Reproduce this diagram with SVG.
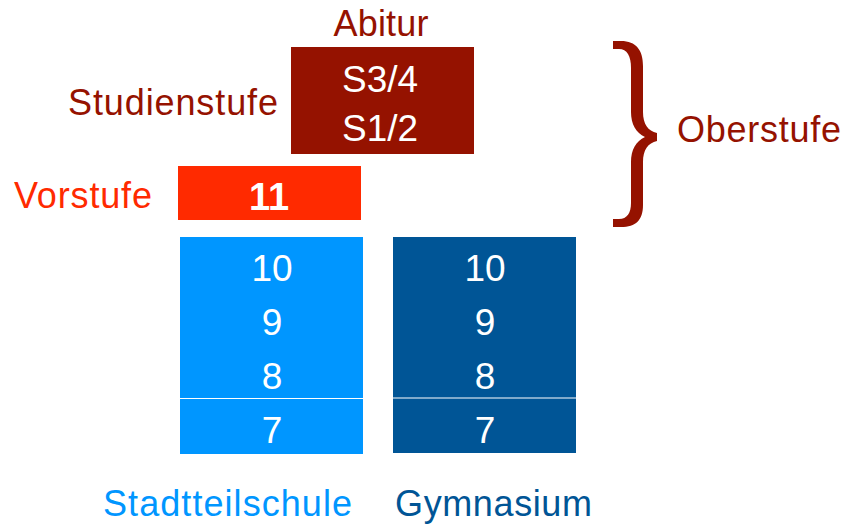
<svg xmlns="http://www.w3.org/2000/svg" width="847" height="524" viewBox="0 0 847 524">
<style>
text{font-family:"Liberation Sans",Arial,sans-serif;}
.w{fill:#fff;font-size:37px;text-anchor:middle;}
.dr{fill:#951200;}
.big{font-size:36px;}
</style>
<rect width="847" height="524" fill="#fff"/>
<g id="abitur"><text class="dr big" x="381" y="36" text-anchor="middle" textLength="95" lengthAdjust="spacing">Abitur</text></g>
<g id="studienstufe">
<rect x="291" y="47" width="183" height="107" fill="#951200"/>
<text class="w" x="380" y="92" textLength="76" lengthAdjust="spacingAndGlyphs">S3/4</text>
<text class="w" x="380" y="141" textLength="76" lengthAdjust="spacingAndGlyphs">S1/2</text>
<text class="dr big" x="68" y="115" textLength="210" lengthAdjust="spacing">Studienstufe</text>
</g>
<g id="vorstufe">
<rect x="178" y="166" width="183" height="54" fill="#FF2A00"/>
<text x="269" y="210" fill="#fff" font-size="38" font-weight="bold" text-anchor="middle">11</text>
<text x="14" y="208" fill="#FF2A00" font-size="36" textLength="138" lengthAdjust="spacing">Vorstufe</text>
</g>
<g id="oberstufe">
<path fill="#951200" d="M613,41 L621,41 C636,41 643,50 643,66 L643,112 C643,124 648,131 657,133 L657,141 C648,143 643,150 643,162 L643,205 C643,220 636,227 621,227 L613,227 L613,219 L619,219 C627,219 631,213 631,203 L631,162 C631,150 636,141 645,137 C636,133 631,124 631,112 L631,68 C631,56 627,49 619,49 L613,49 Z"/>
<text class="dr big" x="677" y="142" textLength="164" lengthAdjust="spacing">Oberstufe</text>
</g>
<g id="stadtteilschule">
<rect x="180" y="237" width="183" height="217" fill="#0096FF"/>
<line x1="180" y1="398.5" x2="363" y2="398.5" stroke="#fff" stroke-width="1.2"/>
<text class="w" x="272" y="281">10</text>
<text class="w" x="272" y="335">9</text>
<text class="w" x="272" y="389">8</text>
<text class="w" x="272" y="443">7</text>
<text x="103" y="516" fill="#0096FF" font-size="36" textLength="249" lengthAdjust="spacing">Stadtteilschule</text>
</g>
<g id="gymnasium">
<rect x="393" y="237" width="183" height="216" fill="#005596"/>
<line x1="393" y1="398" x2="576" y2="398" stroke="#fff" stroke-width="1.2"/>
<text class="w" x="485" y="281">10</text>
<text class="w" x="485" y="335">9</text>
<text class="w" x="485" y="389">8</text>
<text class="w" x="485" y="443">7</text>
<text x="395" y="516" fill="#005596" font-size="36" textLength="197" lengthAdjust="spacing">Gymnasium</text>
</g>
<g id="connectors"></g>
</svg>
